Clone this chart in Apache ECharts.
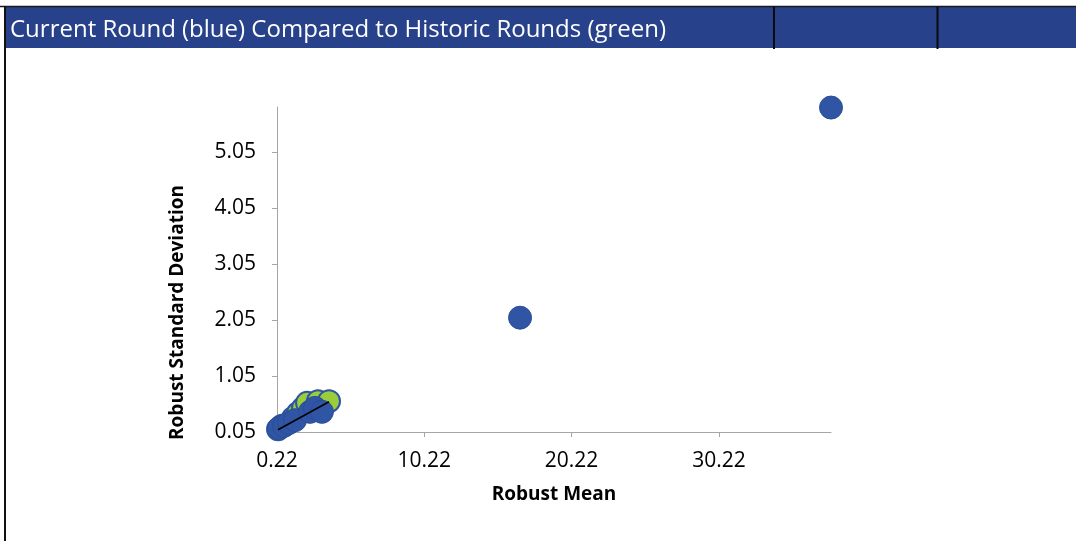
<!DOCTYPE html>
<html>
<head>
<meta charset="utf-8">
<script src="https://cdn.jsdelivr.net/npm/echarts@6/dist/echarts.min.js"></script>
<style>
  html, body { margin: 0; padding: 0; background: #fff; }
  #chart { width: 1076px; height: 541px; }
</style>
</head>
<body>
<div id="chart"></div>
<script>
  // historic rounds (green) - [robust mean, robust sd]
  const historicRounds = [
    [0.29, 0.10], [0.56, 0.16], [1.31, 0.30], [1.65, 0.39],
    [1.99, 0.48], [2.26, 0.57], [3.0, 0.60], [3.75, 0.60]
  ];
  // current round (blue)
  const currentRound = [
    [0.36, 0.12], [0.70, 0.16], [1.03, 0.21], [1.44, 0.26],
    [2.46, 0.41], [2.8, 0.48], [3.27, 0.41], [16.72, 2.09], [37.83, 5.84]
  ];
  const trendLine = [[0.29, 0.09], [3.75, 0.59]];
  const xTicks = [0.22, 10.22, 20.22, 30.22];
  const yTicks = [0.05, 1.05, 2.05, 3.05, 4.05, 5.05];

  const font = 'Open Sans, sans-serif';
  const chart = echarts.init(document.getElementById('chart'));

  const option = {
    animation: false,
    grid: { left: 277, top: 107, right: 245, bottom: 109 },
    graphic: [
      { type: 'rect', shape: { x: 6, y: 7, width: 1070, height: 41 }, style: { fill: '#27418A' }, z: 1 },
      { type: 'line', shape: { x1: 0, y1: 6.5, x2: 1076, y2: 6.5 }, style: { stroke: '#1a1a1a', lineWidth: 1.5 }, z: 2 },
      { type: 'line', shape: { x1: 5, y1: 6, x2: 5, y2: 541 }, style: { stroke: '#111', lineWidth: 2 }, z: 2 },
      { type: 'line', shape: { x1: 774, y1: 7, x2: 774, y2: 49 }, style: { stroke: '#0a0a0a', lineWidth: 2 }, z: 2 },
      { type: 'line', shape: { x1: 937.5, y1: 7, x2: 937.5, y2: 49 }, style: { stroke: '#0a0a0a', lineWidth: 2 }, z: 2 },
      {
        type: 'text', left: 10, top: 18, z: 3,
        style: { text: 'Current Round (blue) Compared to Historic Rounds (green)', fill: '#fff', font: '24px ' + font }
      }
    ],
    xAxis: {
      type: 'value', min: 0.22, max: 37.83,
      name: 'Robust Mean', nameLocation: 'middle', nameGap: 53,
      nameTextStyle: { fontFamily: font, fontWeight: 'bold', fontSize: 19, color: '#000' },
      axisLine: { show: true, lineStyle: { color: '#A6A6A6', width: 1 } },
      axisTick: { show: true, customValues: xTicks, length: 5, lineStyle: { color: '#A6A6A6' } },
      axisLabel: { customValues: xTicks, formatter: v => v.toFixed(2), margin: 19, fontFamily: font, fontSize: 21, color: '#000' },
      splitLine: { show: false }
    },
    yAxis: {
      type: 'value', min: 0.05, max: 5.85,
      name: 'Robust Standard Deviation', nameLocation: 'middle', nameGap: 90, nameRotate: 90,
      nameTextStyle: { fontFamily: font, fontWeight: 'bold', fontSize: 19, color: '#000', padding: [0, 86, 0, 0] },
      axisLine: { show: true, lineStyle: { color: '#A6A6A6', width: 1 } },
      axisTick: { show: true, customValues: yTicks, length: 5, lineStyle: { color: '#A6A6A6' } },
      axisLabel: { customValues: yTicks, formatter: v => v.toFixed(2), margin: 21, fontFamily: font, fontSize: 21, color: '#000' },
      splitLine: { show: false }
    },
    series: [
      {
        name: 'Historic', type: 'scatter', data: historicRounds, symbolSize: 22,
        itemStyle: { color: '#9ACD3C', borderColor: '#2F54A3', borderWidth: 2, opacity: 1 }
      },
      {
        name: 'Current', type: 'scatter', data: currentRound, symbolSize: 23,
        itemStyle: { color: '#2F55A4', borderColor: '#2A4D96', borderWidth: 1, opacity: 1 }
      },
      {
        name: 'Trend', type: 'line', data: trendLine, symbol: 'none',
        lineStyle: { color: '#000', width: 1.5 }, z: 5
      }
    ]
  };
  chart.setOption(option);
</script>
</body>
</html>
